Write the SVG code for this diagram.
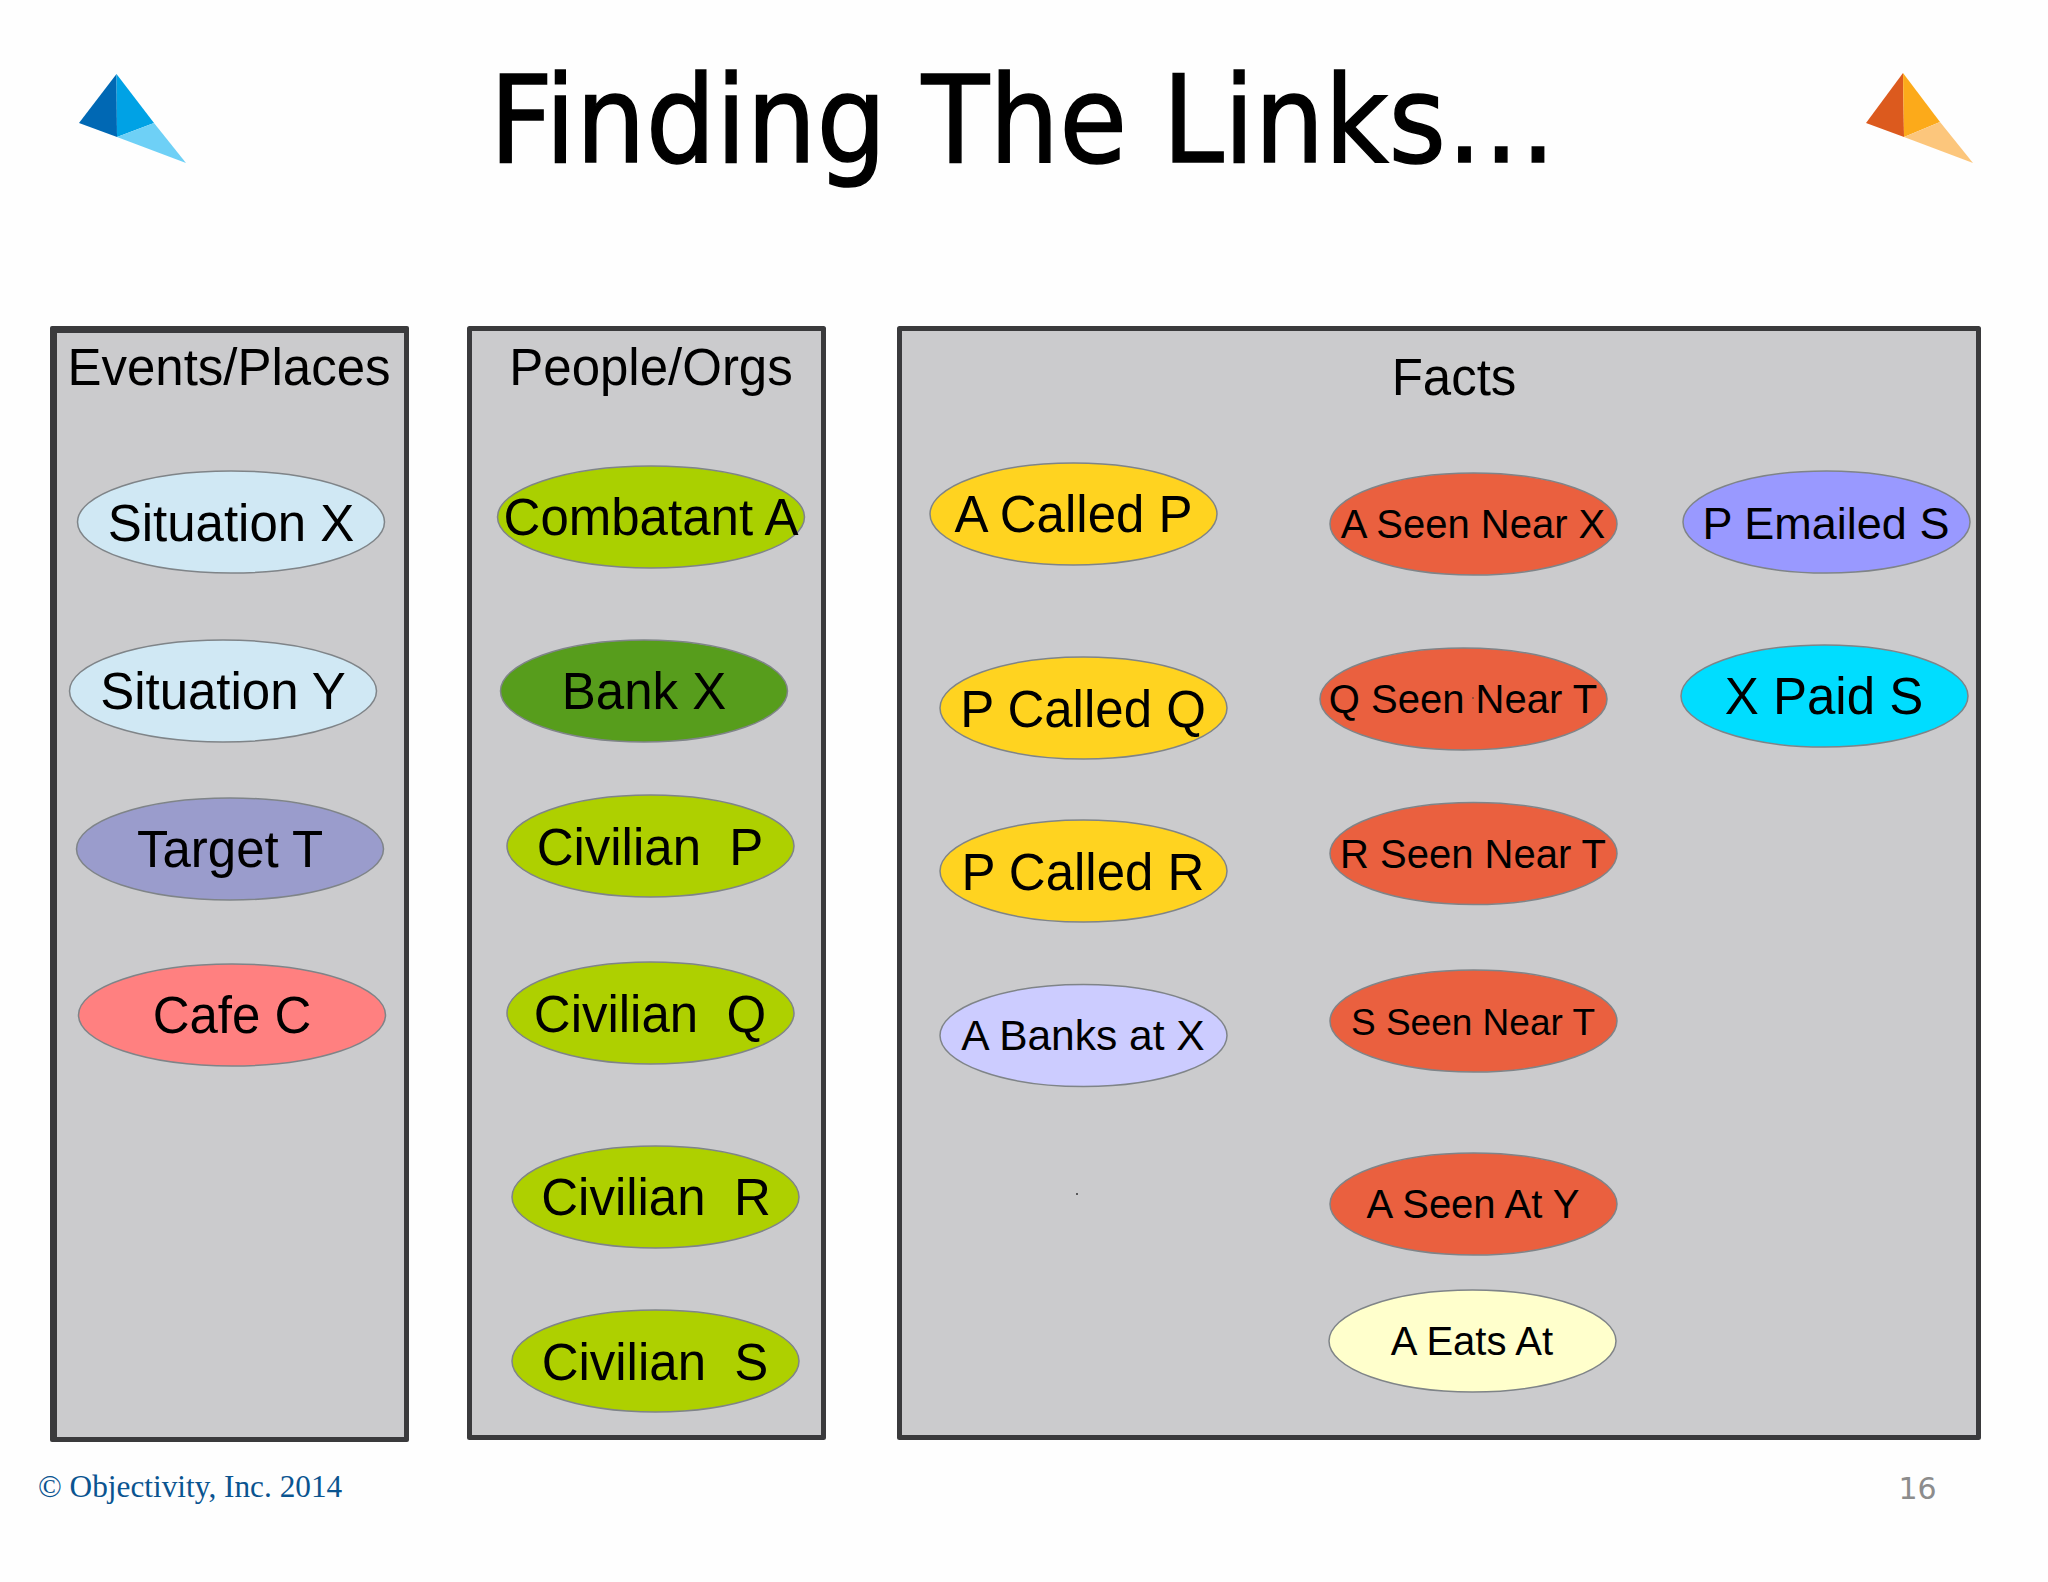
<svg xmlns="http://www.w3.org/2000/svg" width="2048" height="1582" viewBox="0 0 2048 1582">
<style>
text{font-family:"Liberation Sans",Arial,sans-serif;fill:#000;text-anchor:middle}
.panel{fill:#cbcbcd;stroke:#3a3a3c;stroke-linejoin:round;stroke-width:5}
.n{stroke:#7f8488;stroke-width:1.5}
.l{font-size:51px}.m{font-size:40px}
.h{font-size:51px}
</style>
<rect width="2048" height="1582" fill="#fefefe"/>
<text x="1023" y="162" textLength="1067" lengthAdjust="spacingAndGlyphs" style="font-family:'DejaVu Sans',sans-serif;font-size:122px;stroke:#000;stroke-width:1.5">Finding The Links…</text>
<g id="logo-left"><polygon points="116.5,74 117,137 79,123" fill="#0068b4"/><polygon points="116.5,74 154,123 117,137" fill="#00a2e5"/><polygon points="117,137 154,123 186,163" fill="#6ed0f6"/></g>
<g id="logo-right"><polygon points="1903,73 1904,137 1866,123" fill="#dc5a1e"/><polygon points="1903,73 1940,122 1904,137" fill="#fcaa1a"/><polygon points="1904,137 1940,122 1973,163" fill="#fcc67c"/></g>
<g id="panel-events"><rect x="50" y="326" width="359" height="1116" rx="2" fill="#3a3a3c"/><rect x="57" y="333" width="347" height="1104" fill="#cbcbcd"/><text class="h" x="229" y="385">Events/Places</text></g>
<g id="panel-people"><rect class="panel" x="469.5" y="328.5" width="354" height="1109"/><text class="h" x="651" y="385">People/Orgs</text></g>
<g id="panel-facts"><rect class="panel" x="899.5" y="328.5" width="1079" height="1109"/><text class="h" x="1454" y="395">Facts</text></g>
<g id="situation-x"><ellipse class="n" cx="231" cy="522" rx="153.5" ry="51" fill="#d0e8f4"/><text class="l" x="231" y="541">Situation X</text></g>
<g id="situation-y"><ellipse class="n" cx="223" cy="691" rx="153.5" ry="51" fill="#d0e8f4"/><text class="l" x="223" y="709">Situation Y</text></g>
<g id="target-t"><ellipse class="n" cx="230" cy="849" rx="153.5" ry="51" fill="#9a9ccc"/><text class="l" x="230" y="867">Target T</text></g>
<g id="cafe-c"><ellipse class="n" cx="232" cy="1015" rx="153.5" ry="51" fill="#ff8080"/><text class="l" x="232" y="1033">Cafe C</text></g>
<g id="combatant-a"><ellipse class="n" cx="651" cy="517" rx="153.5" ry="51" fill="#aad000"/><text class="l" x="651" y="535">Combatant A</text></g>
<g id="bank-x"><ellipse class="n" cx="644" cy="691" rx="143.5" ry="51" fill="#579d1c"/><text class="l" x="644" y="709">Bank X</text></g>
<g id="civilian-p"><ellipse class="n" cx="650.5" cy="846" rx="143.5" ry="51" fill="#aed000"/><text class="l" x="650" y="865" xml:space="preserve">Civilian  P</text></g>
<g id="civilian-q"><ellipse class="n" cx="650.5" cy="1013" rx="143.5" ry="51" fill="#aed000"/><text class="l" x="650" y="1032" xml:space="preserve">Civilian  Q</text></g>
<g id="civilian-r"><ellipse class="n" cx="655.5" cy="1197" rx="143.5" ry="51" fill="#aed000"/><text class="l" x="656" y="1215" xml:space="preserve">Civilian  R</text></g>
<g id="civilian-s"><ellipse class="n" cx="655.5" cy="1361" rx="143.5" ry="51" fill="#aed000"/><text class="l" x="655" y="1380" xml:space="preserve">Civilian  S</text></g>
<g id="a-called-p"><ellipse class="n" cx="1073.5" cy="514" rx="143.5" ry="51" fill="#ffd320"/><text class="l" x="1073.5" y="532">A Called P</text></g>
<g id="p-called-q"><ellipse class="n" cx="1083.5" cy="708" rx="143.5" ry="51" fill="#ffd320"/><text class="l" x="1083" y="727">P Called Q</text></g>
<g id="p-called-r"><ellipse class="n" cx="1083.5" cy="871" rx="143.5" ry="51" fill="#ffd320"/><text class="l" x="1083" y="890">P Called R</text></g>
<g id="a-banks-x"><ellipse class="n" cx="1083.5" cy="1035.5" rx="143.5" ry="51" fill="#ccccff"/><text x="1083" y="1050" style="font-size:42.5px">A Banks at X</text></g>
<g id="a-seen-x"><ellipse class="n" cx="1473.5" cy="524" rx="143.5" ry="51" fill="#ea603f"/><text class="m" x="1473" y="538">A Seen Near X</text></g>
<g id="q-seen-t"><ellipse class="n" cx="1463.5" cy="699" rx="143.5" ry="51" fill="#ea603f"/><text class="m" x="1463" y="712.5">Q Seen Near T</text><circle cx="1473" cy="698" r="0.8" fill="#333"/></g>
<g id="r-seen-t"><ellipse class="n" cx="1473.5" cy="853.5" rx="143.5" ry="51" fill="#ea603f"/><text class="m" x="1473" y="868">R Seen Near T</text></g>
<g id="s-seen-t"><ellipse class="n" cx="1473.5" cy="1021" rx="143.5" ry="51" fill="#ea603f"/><text x="1473" y="1035" style="font-size:37px">S Seen Near T</text></g>
<g id="a-seen-y"><ellipse class="n" cx="1473.5" cy="1204" rx="143.5" ry="51" fill="#ea603f"/><text class="m" x="1473" y="1218">A Seen At Y</text></g>
<g id="a-eats"><ellipse class="n" cx="1472.5" cy="1341" rx="143.5" ry="51" fill="#ffffcc"/><text class="m" x="1472" y="1355">A Eats At</text></g>
<g id="p-emailed-s"><ellipse class="n" cx="1826.5" cy="522" rx="143.5" ry="51" fill="#9999ff"/><text x="1826" y="539" style="font-size:45px">P Emailed S</text></g>
<g id="x-paid-s"><ellipse class="n" cx="1824.5" cy="696" rx="143.5" ry="51" fill="#00ddff"/><text class="l" x="1824" y="714">X Paid S</text></g>
<circle cx="1077" cy="1194" r="1" fill="#333"/>
<text x="38" y="1497" style="text-anchor:start;font-family:'Liberation Serif',serif;font-size:31.3px;fill:#0a5490">© Objectivity, Inc. 2014</text>
<text x="1917.5" y="1499" style="font-family:'DejaVu Sans',sans-serif;font-size:30px;fill:#8c8c8c">16</text>
</svg>
